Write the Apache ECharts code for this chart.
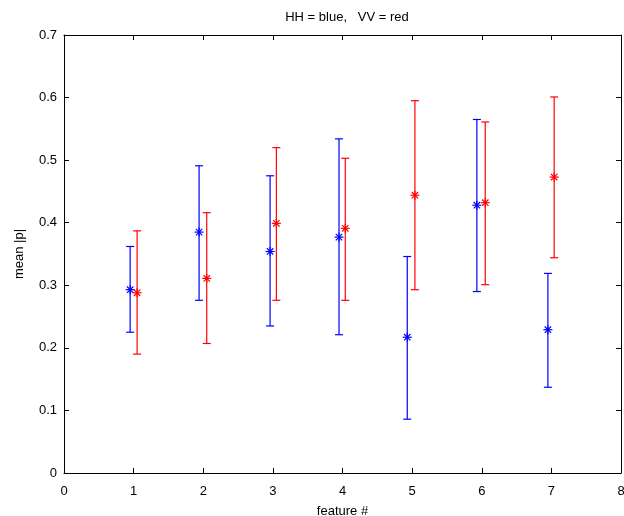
<!DOCTYPE html>
<html>
<head>
<meta charset="utf-8">
<script src="https://cdn.jsdelivr.net/npm/echarts@6/dist/echarts.min.js"></script>
<style>html,body{margin:0;padding:0;background:#fff;}#c{width:624px;height:516px;}</style>
</head>
<body>
<div id="c"></div>
<script>
// HH (blue)
var hhX    = [0.95, 1.94, 2.96, 3.95, 4.93, 5.93, 6.95];
var hhMean = [0.293, 0.385, 0.354, 0.377, 0.217, 0.428, 0.229];
var hhLow  = [0.225, 0.276, 0.235, 0.221, 0.086, 0.290, 0.137];
var hhHigh = [0.362, 0.491, 0.475, 0.534, 0.346, 0.565, 0.319];
// VV (red)
var vvX    = [1.05, 2.05, 3.05, 4.04, 5.04, 6.05, 7.04];
var vvMean = [0.288, 0.311, 0.399, 0.391, 0.444, 0.432, 0.473];
var vvLow  = [0.190, 0.207, 0.276, 0.276, 0.293, 0.301, 0.344];
var vvHigh = [0.387, 0.416, 0.520, 0.503, 0.595, 0.561, 0.601];
var xTicks = [0, 1, 2, 3, 4, 5, 6, 7, 8];
var yTicks = [0, 0.1, 0.2, 0.3, 0.4, 0.5, 0.6, 0.7];

var FONT = '"Liberation Sans Narrow", "Liberation Sans", Arial, sans-serif';

function build(xs, m, lo, hi) {
  return xs.map(function (x, i) { return [x, m[i], lo[i], hi[i]]; });
}

function renderErr(color) {
  return function (params, api) {
    var x = api.value(0);
    var pm = api.coord([x, api.value(1)]);
    var pl = api.coord([x, api.value(2)]);
    var ph = api.coord([x, api.value(3)]);
    var cw = 4, r = 4.5, d = 3.2;
    var st = { stroke: color, lineWidth: 1.2 };
    var kids = [
      { type: 'line', shape: { x1: pl[0], y1: pl[1], x2: ph[0], y2: ph[1] }, style: st },
      { type: 'line', shape: { x1: pl[0] - cw, y1: pl[1], x2: pl[0] + cw, y2: pl[1] }, style: st },
      { type: 'line', shape: { x1: ph[0] - cw, y1: ph[1], x2: ph[0] + cw, y2: ph[1] }, style: st },
      { type: 'line', shape: { x1: pm[0] - r, y1: pm[1], x2: pm[0] + r, y2: pm[1] }, style: st },
      { type: 'line', shape: { x1: pm[0] - d, y1: pm[1] - d, x2: pm[0] + d, y2: pm[1] + d }, style: st },
      { type: 'line', shape: { x1: pm[0] - d, y1: pm[1] + d, x2: pm[0] + d, y2: pm[1] - d }, style: st },
      { type: 'line', shape: { x1: pm[0], y1: pm[1] - r, x2: pm[0], y2: pm[1] + r }, style: st }
    ];
    return { type: 'group', children: kids };
  };
}

var axisLine = { show: true, onZero: false, lineStyle: { color: '#000', width: 1 } };
var tickIn = { show: true, inside: true, length: 5, lineStyle: { color: '#000', width: 1 } };
var lbl = { color: '#000', fontFamily: FONT, fontSize: 13 };

var chart = echarts.init(document.getElementById('c'));
chart.setOption({
  animation: false,
  backgroundColor: '#fff',
  title: {
    text: 'HH = blue,   VV = red',
    left: 342, top: 6, textAlign: 'center',
    textStyle: { fontFamily: FONT, fontSize: 13, fontWeight: 'normal', color: '#000' }
  },
  grid: { left: 64, right: 3, top: 35, bottom: 43, containLabel: false, outerBoundsMode: 'none' },
  xAxis: [
    { type: 'value', min: 0, max: 8, interval: 1, position: 'bottom',
      name: 'feature #', nameLocation: 'middle', nameGap: 32,
      nameTextStyle: { fontFamily: FONT, fontSize: 13, color: '#000' },
      axisLine: axisLine, axisTick: tickIn, splitLine: { show: false },
      axisLabel: Object.assign({ margin: 12, formatter: function (v) { return String(v); } }, lbl) },
    { type: 'value', min: 0, max: 8, interval: 1, position: 'top',
      axisLine: axisLine, axisTick: tickIn, splitLine: { show: false }, axisLabel: { show: false } }
  ],
  yAxis: [
    { type: 'value', min: 0, max: 0.7, interval: 0.1, position: 'left',
      name: 'mean |p|', nameLocation: 'middle', nameGap: 38, nameRotate: 90,
      nameTextStyle: { fontFamily: FONT, fontSize: 13, color: '#000' },
      axisLine: axisLine, axisTick: tickIn, splitLine: { show: false },
      axisLabel: Object.assign({ margin: 7, formatter: function (v) { return v === 0 ? '0' : v.toFixed(1); } }, lbl) },
    { type: 'value', min: 0, max: 0.7, interval: 0.1, position: 'right',
      axisLine: axisLine, axisTick: tickIn, splitLine: { show: false }, axisLabel: { show: false } }
  ],
  series: [
    { type: 'custom', name: 'HH', xAxisIndex: 0, yAxisIndex: 0, renderItem: renderErr('#0000ff'),
      data: build(hhX, hhMean, hhLow, hhHigh), encode: { x: 0, y: [1, 2, 3] }, clip: false },
    { type: 'custom', name: 'VV', xAxisIndex: 0, yAxisIndex: 0, renderItem: renderErr('#ff0000'),
      data: build(vvX, vvMean, vvLow, vvHigh), encode: { x: 0, y: [1, 2, 3] }, clip: false }
  ]
});
</script>
</body>
</html>
